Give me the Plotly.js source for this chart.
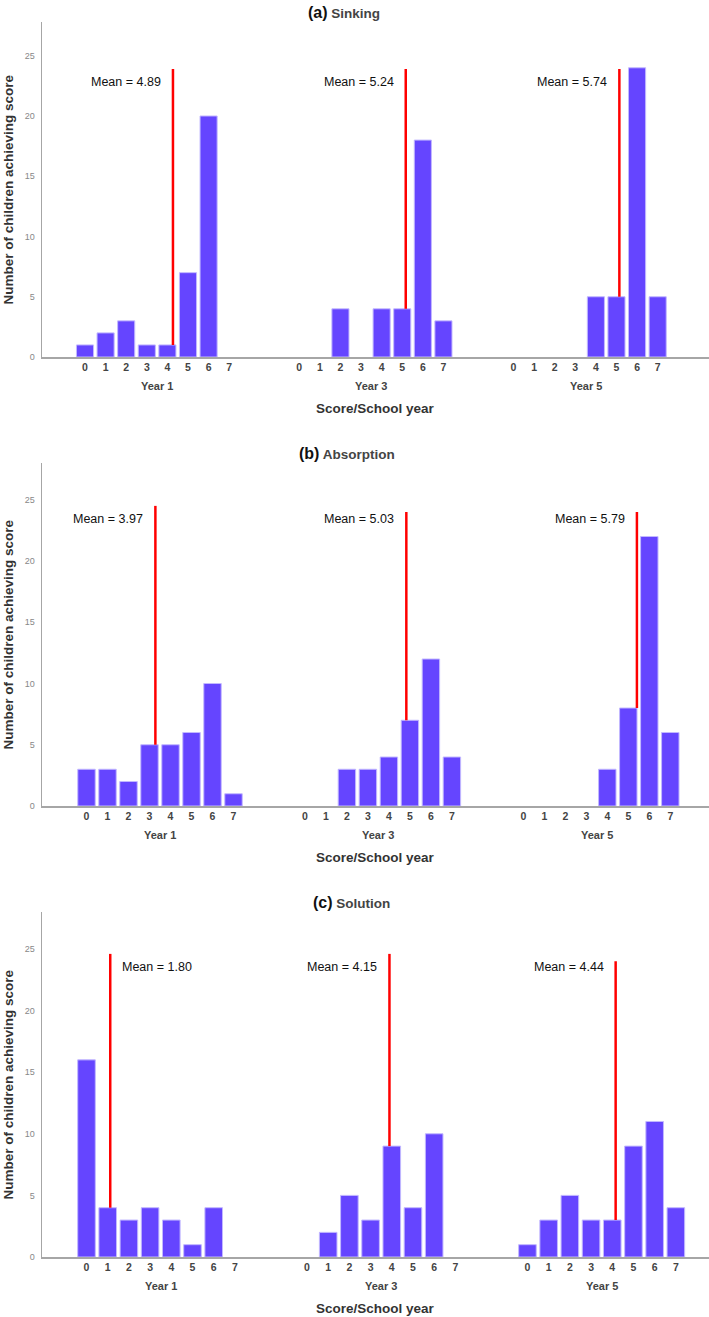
<!DOCTYPE html>
<html>
<head>
<meta charset="utf-8">
<script src="https://cdn.plot.ly/plotly-3.0.1.min.js"></script>
<style>
  body { margin: 0; background: #fff; }
  #chart { width: 709px; height: 1317px; }
</style>
</head>
<body>
<div id="chart"></div>
<script>
const scores = [0, 1, 2, 3, 4, 5, 6, 7];
const years = ['Year 1', 'Year 3', 'Year 5'];
const panelLetters = ['(a)', '(b)', '(c)'];
const panelNames = ['Sinking', 'Absorption', 'Solution'];

// children per score, one row per school year
const sinkingCounts = [
  [1, 2, 3, 1, 1, 7, 20, 0],
  [0, 0, 4, 0, 4, 4, 18, 3],
  [0, 0, 0, 0, 5, 5, 24, 5]
];
const absorptionCounts = [
  [3, 3, 2, 5, 5, 6, 10, 1],
  [0, 0, 3, 3, 4, 7, 12, 4],
  [0, 0, 0, 0, 3, 8, 22, 6]
];
const solutionCounts = [
  [16, 4, 3, 4, 3, 1, 4, 0],
  [0, 2, 5, 3, 9, 4, 10, 0],
  [1, 3, 5, 3, 3, 9, 11, 4]
];

const sinkingMeans = ['4.89', '5.24', '5.74'];
const absorptionMeans = ['3.97', '5.03', '5.79'];
const solutionMeans = ['1.80', '4.15', '4.44'];

// where the red mean marker was drawn on the score scale, and how high it reaches
const sinkingMarkAt = [4.27, 5.17, 5.14];
const absorptionMarkAt = [3.28, 4.83, 5.41];
const solutionMarkAt = [1.12, 3.89, 4.16];
const sinkingMarkTop = [23.9, 23.9, 23.9];
const absorptionMarkTop = [24.5, 24.0, 24.0];
const solutionMarkTop = [24.6, 24.6, 24.0];

const W = 709, H = 1317;
const AXIS_LEFT = 42;
const GROUP_STEP = 10.4;
const BAR_COLOR = '#6545ff';
const FONT = 'Liberation Sans, Arial, sans-serif';

const panels = [
  { counts: sinkingCounts, means: sinkingMeans, markAt: sinkingMarkAt, markTop: sinkingMarkTop,
    labelY: 22.8, top: 22, bottom: 357, yMax: 27.8, slot: 20.6, zeroPx: 85, titleX: 344 },
  { counts: absorptionCounts, means: absorptionMeans, markAt: absorptionMarkAt, markTop: absorptionMarkTop,
    labelY: 23.45, top: 463, bottom: 806, yMax: 28, slot: 21.0, zeroPx: 86.5, titleX: 347 },
  { counts: solutionCounts, means: solutionMeans, markAt: solutionMarkAt, markTop: solutionMarkTop,
    labelY: 23.5, top: 912, bottom: 1257, yMax: 28, slot: 21.2, zeroPx: 86.5, titleX: 351 }
];

const data = [];
const annotations = [];
const layout = {
  width: W,
  height: H,
  margin: { l: 0, r: 0, t: 0, b: 0 },
  paper_bgcolor: '#fff',
  plot_bgcolor: '#fff',
  showlegend: false,
  bargap: 0,
  font: { family: FONT }
};

panels.forEach((p, i) => {
  const sfx = i === 0 ? '' : String(i + 1);
  const xa = 'x' + sfx, ya = 'y' + sfx;
  const yDomain = [1 - p.bottom / H, 1 - p.top / H];

  const tickvals = [], ticktext = [];
  years.forEach((yr, g) => {
    scores.forEach(s => {
      tickvals.push(g * GROUP_STEP + s);
      ticktext.push(String(s));
    });

    const xs = [], ys = [];
    scores.forEach((s, k) => {
      if (p.counts[g][k] > 0) {
        xs.push(g * GROUP_STEP + s);
        ys.push(p.counts[g][k]);
      }
    });
    data.push({
      type: 'bar',
      x: xs,
      y: ys,
      width: 0.83,
      marker: { color: BAR_COLOR, line: { color: '#c2b8ff', width: 1 } },
      xaxis: xa,
      yaxis: ya,
      hoverinfo: 'x+y'
    });

    // red mean marker from the bar it stands on up to its top
    const at = p.markAt[g];
    data.push({
      type: 'scatter',
      mode: 'lines',
      x: [g * GROUP_STEP + at, g * GROUP_STEP + at],
      y: [p.counts[g][Math.round(at)], p.markTop[g]],
      line: { color: '#ff0000', width: 2.5 },
      xaxis: xa,
      yaxis: ya,
      hoverinfo: 'skip'
    });

    const onRight = at < 2;
    annotations.push({
      xref: xa, yref: ya,
      x: g * GROUP_STEP + at, y: p.labelY,
      text: 'Mean = ' + p.means[g],
      showarrow: false,
      xanchor: onRight ? 'left' : 'right',
      xshift: onRight ? 10 : -10,
      font: { family: FONT, size: 12.5, color: '#111' }
    });

    annotations.push({
      xref: xa, yref: ya,
      x: g * GROUP_STEP + 3.5, y: 0,
      text: yr,
      showarrow: false,
      yanchor: 'middle',
      yshift: -29,
      font: { family: FONT, size: 11, color: '#444', weight: 'bold' }
    });
  });

  layout['xaxis' + sfx] = {
    domain: [AXIS_LEFT / W, 1],
    range: [(AXIS_LEFT - p.zeroPx) / p.slot, (W - p.zeroPx) / p.slot],
    anchor: ya,
    tickvals: tickvals,
    ticktext: ticktext,
    ticks: '',
    showgrid: false,
    zeroline: false,
    showline: true,
    linecolor: '#a6a6a6',
    linewidth: 1.5,
    tickfont: { family: FONT, size: 10.5, color: '#444', weight: 'bold' },
    fixedrange: true
  };
  layout['yaxis' + sfx] = {
    domain: yDomain,
    range: [0, p.yMax],
    anchor: xa,
    tickvals: [0, 5, 10, 15, 20, 25],
    ticks: '',
    ticklabelstandoff: 4,
    showgrid: false,
    zeroline: false,
    showline: true,
    linecolor: '#a6a6a6',
    linewidth: 1.5,
    tickfont: { family: FONT, size: 9, color: '#888' },
    fixedrange: true
  };

  annotations.push({
    xref: 'paper', yref: 'paper',
    x: p.titleX / W, y: yDomain[1],
    yshift: 10,
    text: '<b><span style="font-size:16px;color:#111">' + panelLetters[i] + '</span> ' +
          '<span style="color:#444">' + panelNames[i] + '</span></b>',
    showarrow: false,
    xanchor: 'center', yanchor: 'middle',
    font: { family: FONT, size: 13.5, color: '#444' }
  });

  annotations.push({
    xref: 'paper', yref: 'paper',
    x: 8 / W, y: (yDomain[0] + yDomain[1]) / 2,
    text: 'Number of children achieving score',
    textangle: -90,
    showarrow: false,
    xanchor: 'center', yanchor: 'middle',
    font: { family: FONT, size: 13.5, color: '#333', weight: 'bold' }
  });

  annotations.push({
    xref: 'paper', yref: 'paper',
    x: (AXIS_LEFT + W) / 2 / W, y: yDomain[0],
    yshift: -51,
    text: 'Score/School year',
    showarrow: false,
    xanchor: 'center', yanchor: 'middle',
    font: { family: FONT, size: 13.5, color: '#333', weight: 'bold' }
  });
});

layout.annotations = annotations;

Plotly.newPlot('chart', data, layout, { displayModeBar: false, staticPlot: true });
</script>
</body>
</html>
